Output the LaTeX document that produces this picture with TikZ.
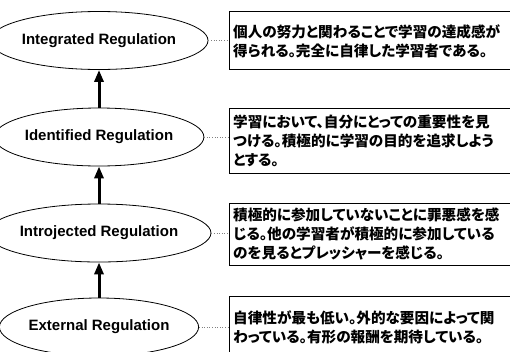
\documentclass[tikz,border=0pt]{standalone}
\usepackage{fontspec}
\setmainfont{Liberation Sans}
\newfontfamily\jpfont{Noto Sans CJK JP}[RawFeature=+palt]
\usetikzlibrary{arrows.meta,shapes.geometric}
\begin{document}
\begin{tikzpicture}[x=1pt,y=-1pt,
  lvl/.style={draw, ellipse, line width=0.8pt, minimum width=172pt, minimum height=58pt, inner sep=0pt, font=\fontsize{15}{18}\selectfont\bfseries},
  desc/.style={anchor=west, align=left, inner sep=0pt, font=\jpfont\fontsize{14.6}{19}\selectfont\bfseries},
  box/.style={draw, line width=0.8pt, anchor=north west, minimum width=300pt, inner sep=0pt},
  up/.style={-{Triangle[length=12pt,width=9pt]}, line width=3pt},
  link/.style={dotted, gray, line width=0.6pt}]
\useasboundingbox (0,0) rectangle (510,351);
% levels
\node[lvl] (e1) at (99,40.5) {Integrated Regulation};
\node[lvl] (e2) at (99,137) {Identified Regulation};
\node[lvl] (e3) at (99,233) {Introjected Regulation};
\node[lvl] (e4) at (99,327) {External Regulation};
% boxes
\node[box, minimum height=58pt] (b1) at (229,11) {};
\node[box, minimum height=65pt] (b2) at (229,108) {};
\node[box, minimum height=62pt] (b3) at (229,203) {};
\node[box, minimum height=70pt] (b4) at (229,296) {};
% texts
\node[desc] (t1) at (233,41.5) {個人の努力と関わることで学習の達成感が\\得られる。完全に自律した学習者である。};
\node[desc] (t2) at (233,140.5) {学習において、自分にとっての重要性を見\\つける。積極的に学習の目的を追求しよう\\とする。};
\node[desc] (t3) at (233,234) {積極的に参加していないことに罪悪感を感\\じる。他の学習者が積極的に参加している\\のを見るとプレッシャーを感じる。};
\node[desc] (t4) at (233,327.5) {自律性が最も低い。外的な要因によって関\\わっている。有形の報酬を期待している。};
% arrows
\draw[up] (e2.north) -- (e1.south);
\draw[up] (e3.north) -- (e2.south);
\draw[up] (e4.north) -- (e3.south);
% links
\draw[link] (e1.east) -- (e1.east -| b1.west);
\draw[link] (e2.east) -- (e2.east -| b2.west);
\draw[link] (e3.east) -- (e3.east -| b3.west);
\draw[link] (e4.east) -- (e4.east -| b4.west);
\end{tikzpicture}
\end{document}
